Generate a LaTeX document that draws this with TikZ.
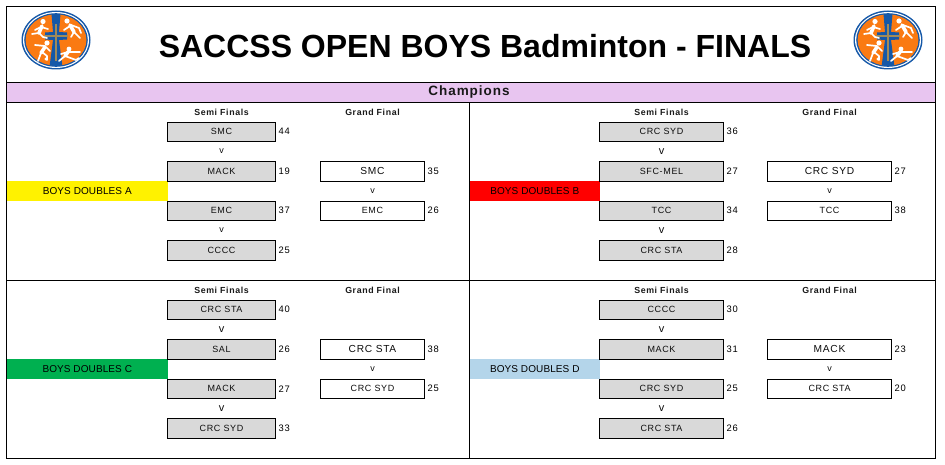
\documentclass[tikz,border=0pt]{standalone}
\usepackage{fontspec}
\setmainfont{Liberation Sans}
\newfontfamily\spaced[LetterSpace=7]{Liberation Sans}
\newfontfamily\tight[LetterSpace=1]{Liberation Sans}
\definecolor{lilac}{HTML}{E8C5F0}
\definecolor{boxgrey}{HTML}{D9D9D9}
\definecolor{dgreen}{HTML}{00B050}
\definecolor{lblue}{HTML}{B4D5EA}
\definecolor{logoblue}{HTML}{1558A8}
\definecolor{logoorange}{HTML}{FA7A12}
\definecolor{logotan}{HTML}{A08A5A}
\tikzset{
  frame/.style={line width=0.9pt,draw=black},
  teambox/.style={draw=black,line width=0.9pt,fill=boxgrey,inner sep=0pt,font=\spaced\fontsize{9}{10}\selectfont,text=black!95},
  finalbox/.style={draw=black,line width=0.9pt,fill=white,inner sep=0pt,font=\spaced\fontsize{9}{10}\selectfont,text=black!95},
  finalbig/.style={finalbox,font=\spaced\fontsize{10.2}{11}\selectfont},
  score/.style={anchor=west,inner sep=0pt,font=\spaced\fontsize{9.4}{10}\selectfont,text=black},
  heading/.style={inner sep=0pt,font=\spaced\fontsize{8.8}{10}\selectfont\bfseries,text=black!90},
  versus/.style={inner sep=0pt,font=\fontsize{9}{10}\selectfont,text=black!95},
  versusbig/.style={inner sep=0pt,font=\fontsize{11}{12}\selectfont,text=black!95},
  band/.style={inner sep=0pt,font=\tight\fontsize{10}{11}\selectfont,text=black},
  figure line/.style={draw=white,line width=1.7pt,line cap=round,line join=round},
  figure body/.style={draw=white,line width=3.6pt,line cap=round,line join=round},
}
\newcommand{\schoollogo}[2]{%
 \begin{scope}[shift={(#1,#2)}]
  \fill[logoblue] (0,0) ellipse [x radius=34.5,y radius=29.5];
  \fill[white] (0,0) ellipse [x radius=33,y radius=28];
  \fill[logoblue] (0,0) ellipse [x radius=31.8,y radius=26.8];
  \fill[logoorange] (0,0) ellipse [x radius=30.4,y radius=25.6];
  \begin{scope}
   \clip (0,0) ellipse [x radius=31,y radius=26];
   \fill[logoblue] (-4.5,-26) -- (4.5,-26) -- (3,-8) -- (11,-7.5) -- (11,-0.5) -- (3,0) -- (6.5,27) -- (-6.5,27) -- (-3,0) -- (-11,-0.5) -- (-11,-7.5) -- (-3,-8) -- cycle;
  \end{scope}
  \fill[logotan] (-1,-16) rectangle (1,21);
  \fill[logotan] (-12,-5) rectangle (12,-3);
  % top-left runner
  \fill[white] (-13,-18.5) circle (2.6);
  \draw[figure body] (-14,-14) -- (-17,-7);
  \draw[figure line] (-17,-7) -- (-13,-3) -- (-9,-2) (-17,-7) -- (-24,-6) (-15,-13) -- (-8,-11) (-15,-13) -- (-21,-10);
  % top-right player
  \fill[white] (11,-19) circle (2.6);
  \draw[figure body] (14,-15) -- (18,-8);
  \draw[figure line] (18,-8) -- (24,-2) (18,-8) -- (15,-3) (14,-14) -- (8,-10) (15,-15) -- (23,-12) -- (25,-7);
  % bottom-left kicker
  \fill[white] (-9,3) circle (2.6);
  \draw[figure body] (-11,7) -- (-15,13);
  \draw[figure line] (-15,13) -- (-18,21) (-14,12) -- (-9,16) -- (-9,20) (-11,6) -- (-21,5) (-10,7) -- (-6,11);
  \fill[white] (-10,19) circle (1.6);
  % bottom-right runner
  \fill[white] (13,9) circle (2.4);
  \draw[figure body] (12,12) -- (9,16);
  \draw[figure line] (9,16) -- (3,21) (9,16) -- (20,20) -- (23,18) (12,12) -- (24,12) (12,12) -- (5,14);
 \end{scope}}
\newcommand{\panelgeom}[7]{%
 \def\pid{#1}\def\pdx{#2}\def\pdy{#3}\def\pl{#4}\def\pr{#5}\def\fl{#6}\def\fr{#7}}
\newcommand{\teamrow}[5]{%
  \node[teambox,minimum width={\pr-\pl},minimum height={#3-#2}] (\pid#1) at ({(\pl+\pr)/2},{(#2+#3)/2+\pdy}) {#4};
  \node[score] (\pid#1s) at ({\pr+3},{(#2+#3)/2+\pdy}) {#5};}
\newcommand{\finalrow}[6]{%
  \node[#6,minimum width={\fr-\fl},minimum height={#3-#2}] (\pid#1) at ({(\fl+\fr)/2},{(#2+#3)/2+\pdy}) {#4};
  \node[score] (\pid#1s) at ({\fr+3},{(#2+#3)/2+\pdy}) {#5};}
\newcommand{\bracket}[9]{%
  \node[band,fill=#1,minimum width={\pl-#3},minimum height=20pt] (\pid lab) at ({(#3+\pl)/2},{191+\pdy}) {#2};
  \node[heading] (\pid semi) at ({(\pl+\pr)/2},{112+\pdy}) {Semi Finals};
  \node[heading] (\pid grand) at ({(\fl+\fr)/2},{112+\pdy}) {Grand Final};
  \teamrow{a}{122}{141.5}{#4}{#5}
  \node[\vstyle] (\pid va) at ({(\pl+\pr)/2},{151.5+\pdy}) {v};
  \teamrow{b}{161.5}{181}{#6}{#7}
  \teamrow{c}{201}{220.5}{#8}{#9}
  \node[\vstyle] (\pid vb) at ({(\pl+\pr)/2},{230.5+\pdy}) {v};
}
\begin{document}
\begin{tikzpicture}[x=1pt,y=-1pt]
\useasboundingbox (0,0) rectangle (945,465);
\fill[white] (0,0) rectangle (945,465);
\fill[lilac] (6.5,82.5) rectangle (935.5,102.5);
\draw[frame] (6.5,6.5) rectangle (935.5,458.5);
\draw[frame] (6.5,82.5) -- (935.5,82.5);
\draw[frame] (6.5,102.5) -- (935.5,102.5);
\draw[frame] (6.5,280.5) -- (935.5,280.5);
\draw[frame] (469.5,102.5) -- (469.5,458.5);
\schoollogo{56}{40}
\schoollogo{888}{40}
\node[inner sep=0pt,font=\fontsize{32}{34}\selectfont\bfseries] (title) at (485,46.5) {SACCSS OPEN BOYS Badminton - FINALS};
\node[inner sep=0pt,font=\spaced\fontsize{13.5}{14}\selectfont\bfseries,text=black!90] (champ) at (469,92.5) {Champions};

% Panel A
\def\vstyle{versus}
\panelgeom{A}{0}{0}{167.5}{275.5}{320.5}{424.5}
\bracket{yellow}{BOYS DOUBLES A}{7}{SMC}{44}{MACK}{19}{EMC}{37}
\teamrow{d}{240.5}{260}{CCCC}{25}
\finalrow{e}{161.5}{181}{SMC}{35}{finalbig}
\node[versus] (Avf) at (372.5,191) {v};
\finalrow{f}{201}{220.5}{EMC}{26}{finalbox}

% Panel B
\def\vstyle{versusbig}
\panelgeom{B}{0}{0}{599.5}{723.5}{767.5}{891.5}
\bracket{red}{BOYS DOUBLES B}{470}{CRC SYD}{36}{SFC-MEL}{27}{TCC}{34}
\teamrow{d}{240.5}{260}{CRC STA}{28}
\finalrow{e}{161.5}{181}{CRC SYD}{27}{finalbig}
\node[versus] (Bvf) at (829.5,191) {v};
\finalrow{f}{201}{220.5}{TCC}{38}{finalbox}

% Panel C
\panelgeom{C}{0}{178}{167.5}{275.5}{320.5}{424.5}
\bracket{dgreen}{BOYS DOUBLES C}{7}{CRC STA}{40}{SAL}{26}{MACK}{27}
\teamrow{d}{240.5}{260}{CRC SYD}{33}
\finalrow{e}{161.5}{181}{CRC STA}{38}{finalbig}
\node[versus] (Cvf) at (372.5,369) {v};
\finalrow{f}{201}{220.5}{CRC SYD}{25}{finalbox}

% Panel D
\panelgeom{D}{0}{178}{599.5}{723.5}{767.5}{891.5}
\bracket{lblue}{BOYS DOUBLES D}{470}{CCCC}{30}{MACK}{31}{CRC SYD}{25}
\teamrow{d}{240.5}{260}{CRC STA}{26}
\finalrow{e}{161.5}{181}{MACK}{23}{finalbig}
\node[versus] (Dvf) at (829.5,369) {v};
\finalrow{f}{201}{220.5}{CRC STA}{20}{finalbox}
\end{tikzpicture}
\end{document}
